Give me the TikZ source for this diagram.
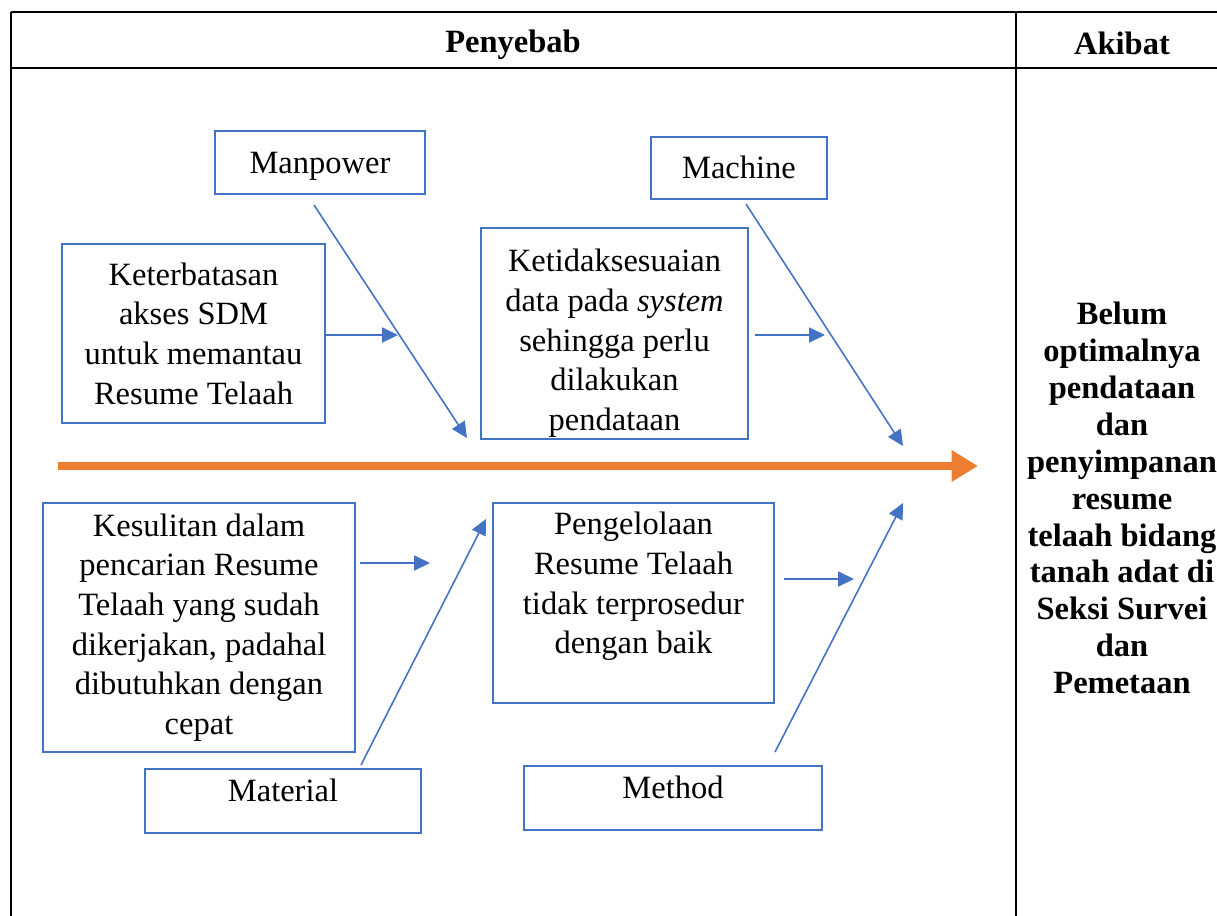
\documentclass[tikz,border=0pt]{standalone}
\usepackage{fontspec}
\setmainfont{Liberation Serif}
\usepackage{tikz}
\usetikzlibrary{arrows.meta}
\definecolor{fbblue}{RGB}{68,114,196}
\definecolor{fborange}{RGB}{237,125,49}

\begin{document}
\begin{tikzpicture}[x=0.02cm,y=-0.02cm,
  box/.style={draw=fbblue,line width=1.6pt,align=center,inner sep=0pt,
    font=\fontsize{18.5}{22.6}\selectfont},
  bone/.style={draw=fbblue,line width=0.9pt,-{Triangle[length=9pt,width=8.5pt]}},
  spine/.style={draw=fborange,line width=4.6pt,-{Triangle[length=15pt,width=17pt]}},
  head/.style={font=\fontsize{18.5}{22.6}\selectfont\bfseries,align=center}]
\useasboundingbox (0,0) rectangle (1217,916);
		% table
		\draw[line width=1.1pt] (11,12) -- (1217,12) (11,68) -- (1217,68)
		      (11,12) -- (11,916) (1016,12) -- (1016,916);
		\node[head] (Py) at (513,45)   {Penyebab};
		\node[head] (Ak) at (1122,43)  {Akibat};
		\node[font=\fontsize{18.5}{21}\selectfont\bfseries,align=center] (Ef) at (1122,498)
		  {Belum\\optimalnya\\pendataan\\dan\\penyimpanan\\resume\\telaah bidang\\tanah adat di\\Seksi Survei\\dan\\Pemetaan};
		% categories
		\node[box,minimum width=4.2cm,minimum height=1.26cm,text depth=0pt]  (Mp) at (320,162.5) {Manpower};
		\node[box,minimum width=3.52cm,minimum height=1.24cm,text depth=1pt] (Mc) at (739,168)   {Machine};
		\node[box,minimum width=5.52cm,minimum height=1.28cm,text depth=12pt] (Mt) at (283,801) {Material};
		\node[box,minimum width=5.96cm,minimum height=1.28cm,text depth=12pt] (Me) at (673,798) {Method};
		% causes
		\node[box,minimum width=5.26cm,minimum height=3.58cm] (Kb) at (193.5,333.5)
		  {Keterbatasan\\akses SDM\\untuk memantau\\Resume Telaah};
		\node[box,minimum width=5.34cm,minimum height=4.22cm] (Ks) at (614.5,333.5)
		  {\rule{0pt}{24pt}Ketidaksesuaian\\data pada \textit{system}\\sehingga perlu\\dilakukan\\pendataan};
		\node[box,minimum width=6.24cm,minimum height=4.98cm] (Kl) at (199,627.5)
		  {Kesulitan dalam\\pencarian Resume\\Telaah yang sudah\\dikerjakan, padahal\\dibutuhkan dengan\\cepat};
		\node[box,minimum width=5.62cm,minimum height=4cm]    (Pg) at (633.5,603)
		  {Pengelolaan\\Resume Telaah\\tidak terprosedur\\dengan baik\\ ~};
		% arrow ends
		\coordinate (s0) at (58,466);   \coordinate (s1) at (978,466);
		\coordinate (a0) at (314,205);  \coordinate (a1) at (467,438);
		\coordinate (b0) at (746,204);  \coordinate (b1) at (903,446);
		\coordinate (c0) at (361,765);  \coordinate (c1) at (486,519);
		\coordinate (d0) at (775,752);  \coordinate (d1) at (903,503);
		\coordinate (e1) at (398,335);  \coordinate (f0) at (755,335);
		\coordinate (f1) at (825,335);  \coordinate (g0) at (360,563);
		\coordinate (g1) at (430,563);  \coordinate (h0) at (784,579);
		\coordinate (h1) at (854,579);
		\draw[spine] (s0) -- (s1);
		\draw[bone] (a0) -- (a1);
		\draw[bone] (b0) -- (b1);
		\draw[bone] (c0) -- (c1);
		\draw[bone] (d0) -- (d1);
		\draw[bone] (Kb.east |- e1) -- (e1);
		\draw[bone] (f0) -- (f1);
		\draw[bone] (g0) -- (g1);
		\draw[bone] (h0) -- (h1);
\end{tikzpicture}
\end{document}
